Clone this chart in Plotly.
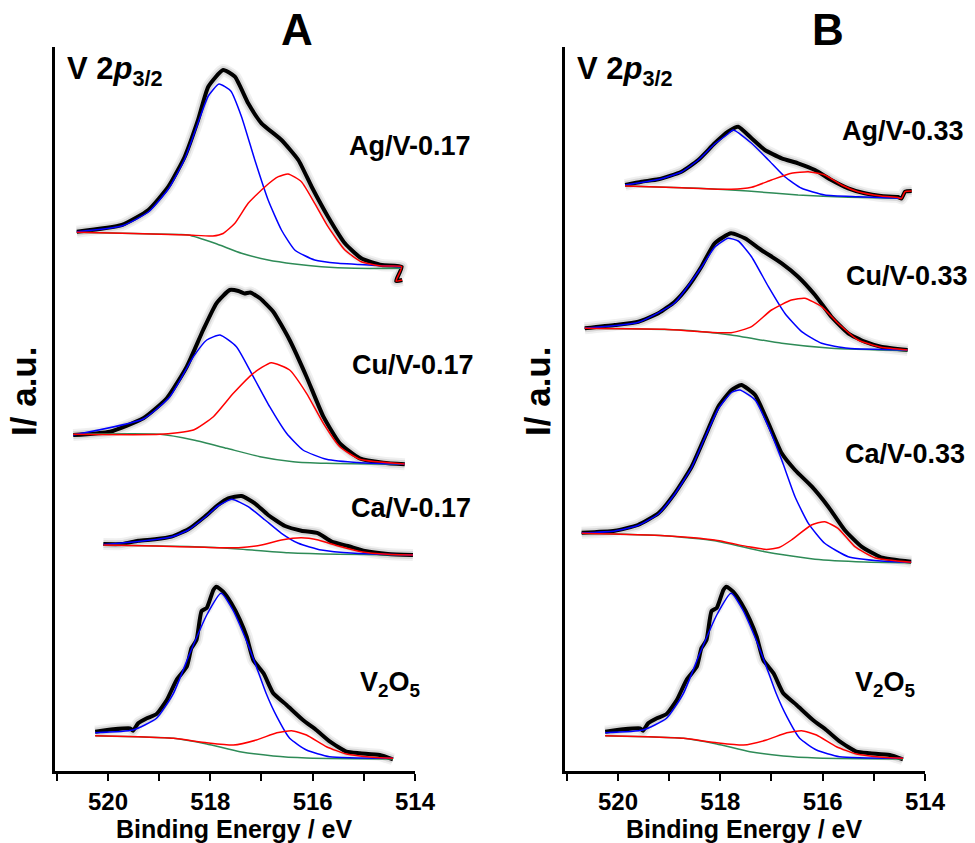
import plotly.graph_objects as go

# ---------------- data (binding energy eV, intensity a.u.) ----------------
# Panel A
AG017_EXP = [(520.61,539.3),(519.73,546),(519.21,561),(518.82,584.3),(518.50,614.3),(518.24,651),(518.04,684.3),
             (517.75,701),(517.52,694.3),(517.26,667.7),(517.00,647.7),(516.61,631),(516.28,611),(516.02,584.3),
             (515.70,554.3),(515.37,527.7),(515.05,512.7),(514.65,506),(514.26,504.3),(514.37,490),(514.25,491)]
AG017_FIT1 = [(520.61,539.3),(519.73,545),(519.21,559),(518.82,582),(518.50,612),(518.24,648),(518.04,675),
              (517.83,687),(517.60,680),(517.39,654.3),(517.13,611),(516.87,571),(516.61,541),(516.35,521),
              (515.96,511),(515.50,507.7),(514.53,505),(514.26,504.3)]
AG017_FIT2 = [(520.61,538.7),(519.50,537.5),(518.43,536),(517.95,535),(517.75,537.5),(517.52,547.7),(517.26,567.7),
              (516.93,584.3),(516.67,594.3),(516.48,597),(516.22,589.3),(515.96,567.7),(515.70,544.3),(515.37,521),
              (515.05,509.3),(514.65,505),(514.26,504.3),(514.37,490),(514.25,491)]
AG017_BG = [(520.61,538.7),(519.50,537.5),(518.60,536.5),(518.43,536),(517.91,527.7),(517.39,517.7),(516.87,511),
            (516.35,507),(515.83,504.3),(515.18,502.7),(514.26,502.7)]

CU017_EXP = [(520.68,336),(519.96,339.3),(519.31,352.7),(518.85,372.7),(518.46,404.3),(518.14,441),(517.88,467.7),
             (517.62,481),(517.45,480),(517.33,477.5),(517.22,478.5),(517.03,472.7),(516.77,459.3),(516.45,431),
             (516.12,394.3),(515.79,354.3),(515.47,327.7),(515.08,312.7),(514.62,308.3),(514.20,306.7)]
CU017_FIT1 = [(520.68,336),(519.31,352),(518.79,374.3),(518.33,414.3),(518.07,431),(517.81,436),(517.49,424.3),
              (517.16,394.3),(516.84,364.3),(516.51,337.7),(516.19,321),(515.73,311.7),(515.08,308.3),(514.20,307)]
CU017_FIT2 = [(520.68,336.7),(518.98,336.7),(518.33,341),(517.94,354.3),(517.55,377.7),(517.16,397.7),(516.81,408.3),
              (516.45,401),(516.12,377.7),(515.79,347.7),(515.47,324.3),(515.08,311.7),(514.20,307)]
CU017_BG = [(520.68,336.7),(518.98,336.7),(518.33,331),(517.68,322.7),(517.03,314.3),(516.38,309.3),(515.73,307.7),
            (514.20,306.7)]

CA017_EXP = [(520.09,227),(519.73,227),(519.41,230.3),(519.08,231.7),(518.76,234.3),(518.43,241.7),(518.11,254.3),
             (517.85,266),(517.65,272.7),(517.39,275),(517.13,267.7),(516.87,256),(516.54,245),(516.22,240.3),
             (515.89,237.7),(515.63,229.3),(515.31,225),(514.98,220),(514.53,217),(514.04,216)]
CA017_FIT1 = [(520.09,226.5),(519.41,229.5),(518.76,234),(518.43,241),(518.11,253.5),(517.85,265),(517.58,271.7),
              (517.26,264.3),(516.93,251),(516.61,237.7),(516.28,227.7),(515.83,221),(515.18,217.7),(514.04,216)]
CA017_FIT2 = [(520.09,226),(519.08,225),(518.11,223.7),(517.45,223.3),(517.00,226),(516.61,231),(516.22,233.3),
              (515.89,231),(515.50,225),(515.05,219.3),(514.53,216.7),(514.04,216)]
CA017_BG = [(520.09,226),(518.43,224.5),(517.90,223.5),(517.45,222),(516.48,218.3),(515.50,216.7),(514.04,216)]

# V2O5 reference (same spectrum in both panels)
V2O5_EXP = [(520.25,39.3),(519.90,41.7),(519.57,42.7),(519.51,40.3),(519.41,47.7),(519.24,52.7),(519.05,57),
            (518.85,71),(518.66,91),(518.46,104.3),(518.37,122.7),(518.27,131),(518.17,160),(518.07,163),
            (517.94,181),(517.88,184.3),(517.75,179.3),(517.59,167.7),(517.42,151),(517.29,134.3),(517.16,111),
            (516.96,97.7),(516.77,77.7),(516.51,66),(516.19,51),(515.93,41),(515.66,29.3),(515.34,19.3),
            (515.08,17.7),(514.69,16),(514.43,11.7)]
V2O5_FIT1 = [(520.25,38.3),(519.51,41),(519.05,52.7),(518.72,77.7),(518.40,117.7),(518.07,156),(517.79,177.7),
             (517.56,161),(517.30,131),(517.10,104.3),(516.91,77.7),(516.70,54.3),(516.45,32.7),(516.12,21),
             (515.67,14.3),(514.43,12.7)]
V2O5_FIT2 = [(520.25,35.3),(519.41,34.3),(518.72,32.7),(518.07,28.3),(517.55,26),(517.10,31),(516.70,38.3),
             (516.41,40.3),(516.12,36),(515.73,24.3),(515.34,17),(514.82,13.7),(514.43,12.7)]
V2O5_BG = [(520.25,35.3),(518.72,32.7),(518.07,27),(517.42,19.3),(516.77,15),(516.12,13),(514.43,12)]

# Panel B
AG033_EXP = [(519.86,586),(519.54,589.3),(519.21,591.7),(518.76,599.3),(518.43,611),(518.11,627.7),(517.85,639.3),
             (517.65,644.3),(517.39,632.7),(517.13,621),(516.80,612.7),(516.48,607.7),(516.15,601),(515.83,591),
             (515.50,582.7),(515.18,577.7),(514.86,575),(514.53,574),(514.46,572.5),(514.39,579.3),(514.26,580)]
AG033_FIT1 = [(519.86,586),(519.21,591.5),(518.76,599),(518.43,611),(518.11,627),(517.85,637),(517.75,641),
              (517.39,627.7),(517.06,611),(516.74,594.3),(516.41,582.7),(515.96,576),(515.31,574.3),(514.46,572.7)]
AG033_FIT2 = [(519.86,585),(518.76,583.3),(517.79,581.7),(517.39,583.7),(517.00,591),(516.61,597.7),(516.28,599.3),
              (515.96,596),(515.63,586),(515.31,579.3),(514.86,575),(514.53,573.5),(514.46,572.5),(514.39,579.3),
              (514.26,580)]
AG033_BG = [(519.86,585),(518.43,582.7),(517.46,580),(516.48,576),(515.50,573.7),(514.46,572.7)]

CU033_EXP = [(520.65,442.7),(520.06,446),(519.60,449.3),(519.21,457.7),(518.89,469.3),(518.63,484.3),(518.37,504.3),
             (518.11,527.7),(517.79,537.7),(517.52,532.7),(517.20,521),(516.80,507.7),(516.48,494.3),(516.15,476),
             (515.83,454.3),(515.50,437.7),(515.18,429.3),(514.86,424.3),(514.34,421)]
CU033_FIT1 = [(520.65,442.7),(519.60,448.7),(518.89,468.3),(518.37,503.7),(518.11,523.7),(517.85,532.7),(517.65,530),
              (517.39,514.3),(517.06,484.3),(516.74,457.7),(516.41,439.3),(516.02,427.7),(515.50,422.7),(514.34,421)]
CU033_FIT2 = [(520.65,442.7),(519.09,441.7),(517.79,438.3),(517.39,444.3),(517.00,461),(516.61,471),(516.35,472.7),
              (516.02,464.3),(515.70,447.7),(515.31,431),(514.86,423.7),(514.34,421)]
CU033_BG = [(520.65,442.7),(518.76,441),(517.79,436),(516.80,427.7),(515.83,422.7),(514.34,420.3)]

CA033_EXP = [(520.71,238.3),(520.06,240.3),(519.61,246),(519.21,257.7),(518.89,277.7),(518.56,304.3),(518.30,334.3),
             (518.04,364.3),(517.78,381),(517.59,386),(517.32,376),(517.06,347.7),(516.80,317.7),(516.54,301),
             (516.21,284.3),(515.89,264.3),(515.57,241),(515.24,224.3),(514.86,213.7),(514.27,209.3)]
CA033_FIT1 = [(520.71,238),(520.06,240),(519.61,245.5),(519.21,257),(518.89,277),(518.56,303.5),(518.30,333.5),
              (518.04,362),(517.78,378.5),(517.62,381),(517.32,371),(517.06,344.3),(516.80,311),(516.54,274.3),
              (516.28,247.7),(515.96,227.7),(515.50,214.3),(514.86,210),(514.27,208.7)]
CA033_FIT2 = [(520.71,237.7),(519.09,235.3),(518.11,231),(517.46,224.3),(517.10,221.5),(516.85,223.5),(516.61,231),
              (516.22,246),(515.96,249.3),(515.70,242.7),(515.37,224.3),(514.98,213.3),(514.27,208.7)]
CA033_BG = [(520.71,237.7),(519.09,235.3),(518.11,230.3),(517.13,219.3),(516.15,211.7),(515.18,209),(514.27,208.3)]

PANEL_TITLES = ["A", "B"]
LABELS_A = ["Ag/V-0.17", "Cu/V-0.17", "Ca/V-0.17", "V<sub>2</sub>O<sub>5</sub>"]
LABELS_B = ["Ag/V-0.33", "Cu/V-0.33", "Ca/V-0.33", "V<sub>2</sub>O<sub>5</sub>"]
TICK_VALS = [520, 518, 516, 514]
X_RANGE = [521.035, 514.0]
Y_RANGE = [0, 724]

# ---------------- figure ----------------
W, H = 975, 843
FONT = "Liberation Sans, Arial, sans-serif"
GREEN = "#2e8b57"
BLUE = "#0000ff"
RED = "#ff0000"

fig = go.Figure()


def add_curve(pts, xa, ya, color, width, smoothing=0.5):
    fig.add_trace(go.Scatter(
        x=[p[0] for p in pts], y=[p[1] for p in pts], mode="lines",
        line=dict(color=color, width=width, shape="spline", smoothing=smoothing),
        xaxis=xa, yaxis=ya, showlegend=False, hoverinfo="skip"))


def add_spectrum(exp, fit1, fit2, bg, xa, ya):
    add_curve(exp, xa, ya, "rgba(0,0,0,0.06)", 12)
    add_curve(exp, xa, ya, "rgba(0,0,0,0.10)", 8)
    add_curve(exp, xa, ya, "black", 4)
    add_curve(bg, xa, ya, GREEN, 1.5)
    add_curve(fit1, xa, ya, BLUE, 1.5)
    add_curve(fit2, xa, ya, RED, 1.5)


for s in [(AG017_EXP, AG017_FIT1, AG017_FIT2, AG017_BG),
          (CU017_EXP, CU017_FIT1, CU017_FIT2, CU017_BG),
          (CA017_EXP, CA017_FIT1, CA017_FIT2, CA017_BG),
          (V2O5_EXP, V2O5_FIT1, V2O5_FIT2, V2O5_BG)]:
    add_spectrum(*s, "x", "y")
for s in [(AG033_EXP, AG033_FIT1, AG033_FIT2, AG033_BG),
          (CU033_EXP, CU033_FIT1, CU033_FIT2, CU033_BG),
          (CA033_EXP, CA033_FIT1, CA033_FIT2, CA033_BG),
          (V2O5_EXP, V2O5_FIT1, V2O5_FIT2, V2O5_BG)]:
    add_spectrum(*s, "x2", "y2")

ydom = [1 - 771 / H, 1 - 47 / H]
xaxis_common = dict(
    range=X_RANGE, showline=True, linecolor="black", linewidth=3, mirror=False,
    showgrid=False, zeroline=False, ticks="outside", ticklen=7, tickwidth=2, tickcolor="black",
    tickvals=TICK_VALS, ticktext=[str(v) for v in TICK_VALS],
    tickfont=dict(family=FONT, size=24, color="black", weight="bold"),
    minor=dict(dtick=1, tick0=514, ticks="outside", ticklen=7, tickwidth=2, tickcolor="black"),
    automargin=False, fixedrange=True)
yaxis_common = dict(
    range=Y_RANGE, domain=ydom, showline=True, linecolor="black", linewidth=3,
    showgrid=False, zeroline=False, showticklabels=False, ticks="", automargin=False)

fig.update_layout(
    width=W, height=H, margin=dict(l=0, r=0, t=0, b=0),
    paper_bgcolor="white", plot_bgcolor="white",
    xaxis=dict(domain=[55 / W, 415 / W], anchor="y", **xaxis_common),
    xaxis2=dict(domain=[565 / W, 925 / W], anchor="y2", **xaxis_common),
    yaxis=dict(anchor="x", **yaxis_common),
    yaxis2=dict(anchor="x2", **yaxis_common),
)


def note(text, x, y, size, xanchor="center", yanchor="middle", angle=0):
    fig.add_annotation(
        text=text, x=x / W, y=1 - y / H, xref="paper", yref="paper",
        xanchor=xanchor, yanchor=yanchor, showarrow=False, textangle=angle,
        font=dict(family=FONT, size=size, color="black", weight="bold"))


note(PANEL_TITLES[0], 297, 30, 44)
note(PANEL_TITLES[1], 828, 30, 44)
note("V 2<i>p</i><sub>3/2</sub>", 65, 71, 31, xanchor="left")
note("V 2<i>p</i><sub>3/2</sub>", 575, 71, 31, xanchor="left")

for txt, (x, y) in zip(LABELS_A, [(410, 146), (413, 365), (411, 508), (390, 684)]):
    note(txt, x, y, 27)
for txt, (x, y) in zip(LABELS_B, [(903, 131), (907, 276), (905, 454), (885, 684)]):
    note(txt, x, y, 27)

note("Binding Energy / eV", 234, 829, 25)
note("Binding Energy / eV", 744, 829, 25)
note("I/ a.u.", 23, 392, 35, angle=-90)
note("I/ a.u.", 537, 392, 35, angle=-90)

fig.write_html("out.html")
